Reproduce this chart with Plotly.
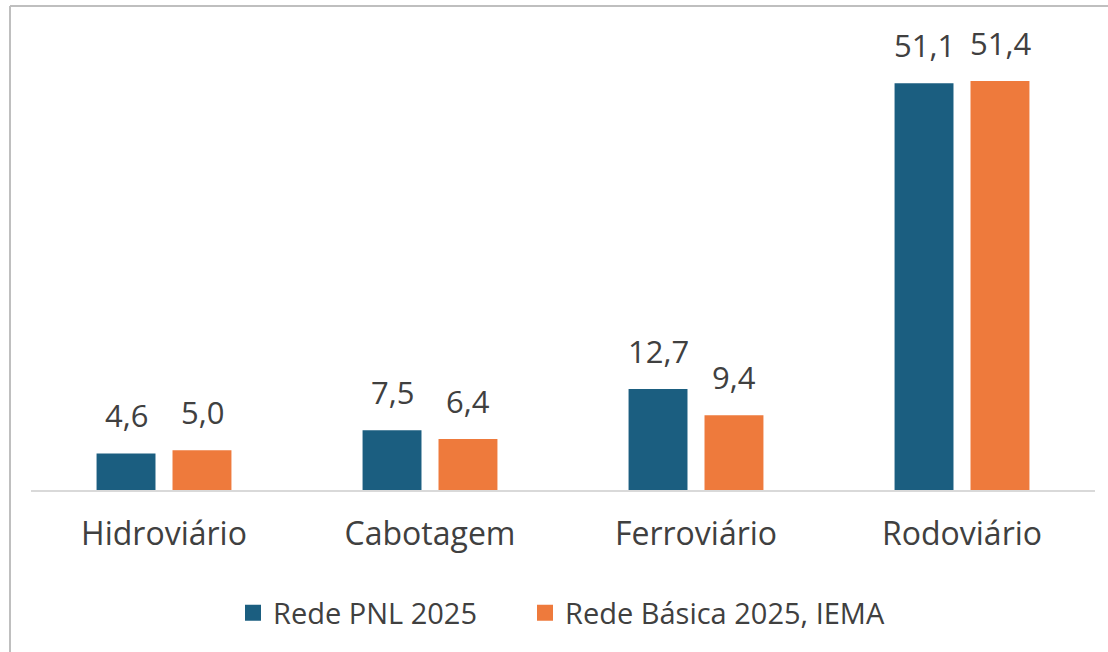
import plotly.graph_objects as go

categories = ["Hidroviário", "Cabotagem", "Ferroviário", "Rodoviário"]
series_names = ["Rede PNL 2025", "Rede Básica 2025, IEMA"]
pnl_values = [4.6, 7.5, 12.7, 51.1]
iema_values = [5.0, 6.4, 9.4, 51.4]
colors = ["#1B5E80", "#EE7A3C"]

FONT = "Open Sans"
TXT = "#404040"

W, H = 1108, 652
ML, MR, MT, MB = 31, 13, 30, 162
plot_h = H - MT - MB
ymax = 57.8

fig = go.Figure()
for name, vals, col in zip(series_names, [pnl_values, iema_values], colors):
    fig.add_trace(go.Bar(
        x=categories, y=vals, name=name,
        marker=dict(color=col, line=dict(width=0)),
        offsetgroup=name, showlegend=False, hoverinfo="skip",
    ))
# legend entries with larger square symbols, one legend per series
legend_ids = ["legend", "legend2"]
for name, col, lg in zip(series_names, colors, legend_ids):
    fig.add_trace(go.Scatter(
        x=[None], y=[None], mode="markers", name=name, legend=lg,
        marker=dict(symbol="square", size=16, color=col),
    ))

def fmt(v):
    return f"{v:.1f}".replace(".", ",")

annotations = []
offsets = [-38, 38]
for vals, dx in zip([pnl_values, iema_values], offsets):
    for c, v in zip(categories, vals):
        annotations.append(dict(
            x=c, y=v, xref="x", yref="y", text=fmt(v), showarrow=False,
            xshift=dx, yshift=15, yanchor="bottom",
            font=dict(family=FONT, size=31, color=TXT),
        ))

def px_x(p):
    return (p - ML) / (W - ML - MR)

def px_y(p):
    return (H - MB - p) / plot_h

shapes = [
    dict(type="line", xref="paper", yref="paper",
         x0=px_x(10), x1=px_x(10), y0=px_y(6), y1=px_y(660),
         line=dict(color="#BFBFBF", width=2)),
    dict(type="line", xref="paper", yref="paper",
         x0=px_x(10), x1=px_x(1120), y0=px_y(6), y1=px_y(6),
         line=dict(color="#BFBFBF", width=2)),
]

legend_style = dict(orientation="h", xanchor="left", y=px_y(613), yanchor="middle",
                    font=dict(family=FONT, size=29, color=TXT),
                    itemsizing="trace", itemwidth=30, bgcolor="rgba(0,0,0,0)")

fig.update_layout(
    width=W, height=H,
    margin=dict(l=ML, r=MR, t=MT, b=MB, pad=0),
    paper_bgcolor="white", plot_bgcolor="white",
    barmode="group", bargap=0.429, bargroupgap=0.224,
    font=dict(family=FONT, color=TXT),
    showlegend=True,
    legend=dict(x=px_x(233), **legend_style),
    legend2=dict(x=px_x(525), **legend_style),
    annotations=annotations,
    shapes=shapes,
    xaxis=dict(showline=True, linecolor="#D9D9D9", linewidth=2, showgrid=False,
               ticks="", tickfont=dict(family=FONT, size=32, color=TXT),
               ticklabelstandoff=15, fixedrange=True),
    yaxis=dict(range=[0, ymax], visible=False, showgrid=False, zeroline=False,
               fixedrange=True),
)

fig.write_html("out.html", config={"displayModeBar": False},
               post_script="document.body.style.margin='0';")
